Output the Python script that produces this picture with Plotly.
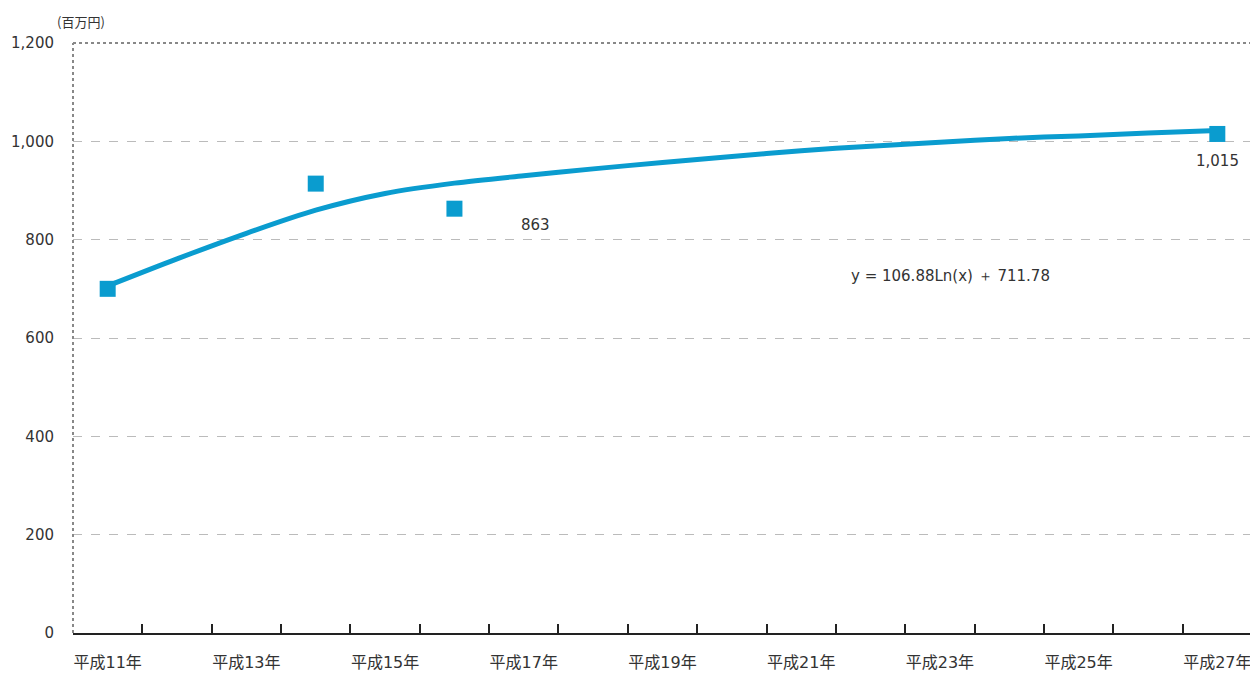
import plotly.graph_objects as go

years = ["平成%d年" % y for y in range(11, 28)]
tick_text = [y if i % 2 == 0 else "" for i, y in enumerate(years)]

# observed values (百万円)
obs_years = ["平成11年", "平成14年", "平成16年", "平成27年"]
obs_values = [700, 914, 863, 1015]

# approximation curve
trend_values = [706, 761, 813, 860, 894, 915, 930, 944, 957, 969, 981,
                990, 998, 1006, 1011, 1017, 1022]

y_ticks = [0, 200, 400, 600, 800, 1000, 1200]
y_tick_text = ["0", "200", "400", "600", "800", "1,000", "1,200"]

equation = "y = 106.88Ln(x) ＋ 711.78"
unit = "(百万円)"

BLUE = "#0a9ccf"
TXT = "#333333"
NUM_FONT = "DejaVu Sans"
JP_FONT = "DejaVu Sans, Noto Sans CJK JP"

fig = go.Figure()
fig.add_trace(go.Scatter(
    x=years, y=trend_values, mode="lines",
    line=dict(color=BLUE, width=5, shape="spline", smoothing=0.8),
    hoverinfo="skip", showlegend=False))
fig.add_trace(go.Scatter(
    x=obs_years, y=obs_values, mode="markers",
    marker=dict(symbol="square", size=16, color=BLUE),
    showlegend=False))

fig.update_layout(
    width=1250, height=665,
    margin=dict(l=65, r=6, t=35, b=40, autoexpand=False),
    paper_bgcolor="white", plot_bgcolor="white",
    font=dict(family=NUM_FONT, color=TXT, size=15),
    xaxis=dict(
        type="category", categoryorder="array", categoryarray=years,
        tickvals=years, ticktext=tick_text, tickson="boundaries",
        ticks="inside", ticklen=9, tickwidth=2, tickcolor="#222",
        showline=True, linecolor="#222", linewidth=2,
        showgrid=False, range=[-0.5, 16.5], tickangle=0, automargin=False,
        ticklabelstandoff=14,
        tickfont=dict(family=JP_FONT, size=16, color=TXT),
    ),
    yaxis=dict(
        range=[0, 1200], tickvals=y_ticks, ticktext=y_tick_text,
        showgrid=True, gridcolor="#bbbbbb", griddash="dash", gridwidth=1,
        zeroline=False, showline=False, ticks="", automargin=False,
        ticklabelstandoff=18,
        tickfont=dict(family=NUM_FONT, size=15, color=TXT),
    ),
    shapes=[
        dict(type="line", xref="paper", yref="paper", x0=0, x1=0, y0=0, y1=1,
             line=dict(color="#888888", width=2, dash="dot")),
        dict(type="line", xref="paper", yref="paper", x0=0, x1=1, y0=1, y1=1,
             line=dict(color="#888888", width=2, dash="dot")),
        dict(type="line", xref="paper", yref="paper", x0=1, x1=1, y0=0, y1=1,
             line=dict(color="#222222", width=2)),
    ],
    annotations=[
        dict(x="平成16年", y=863, xref="x", yref="y", text="863", showarrow=False,
             xshift=81, yshift=-16, font=dict(family=NUM_FONT, size=15, color=TXT)),
        dict(x="平成27年", y=1015, xref="x", yref="y", text="1,015", showarrow=False,
             xshift=0, yshift=-27, font=dict(family=NUM_FONT, size=15, color=TXT)),
        dict(x=0.744, y=0.605, xref="paper", yref="paper", text=equation,
             xanchor="center", yanchor="middle",
             showarrow=False, font=dict(family=NUM_FONT, size=15, color=TXT)),
        dict(x=0.0068, y=1.036, xref="paper", yref="paper", text=unit,
             xanchor="center", yanchor="middle",
             showarrow=False, font=dict(family="Noto Sans CJK JP", size=13, color=TXT)),
    ],
)

fig.write_html("out.html")
